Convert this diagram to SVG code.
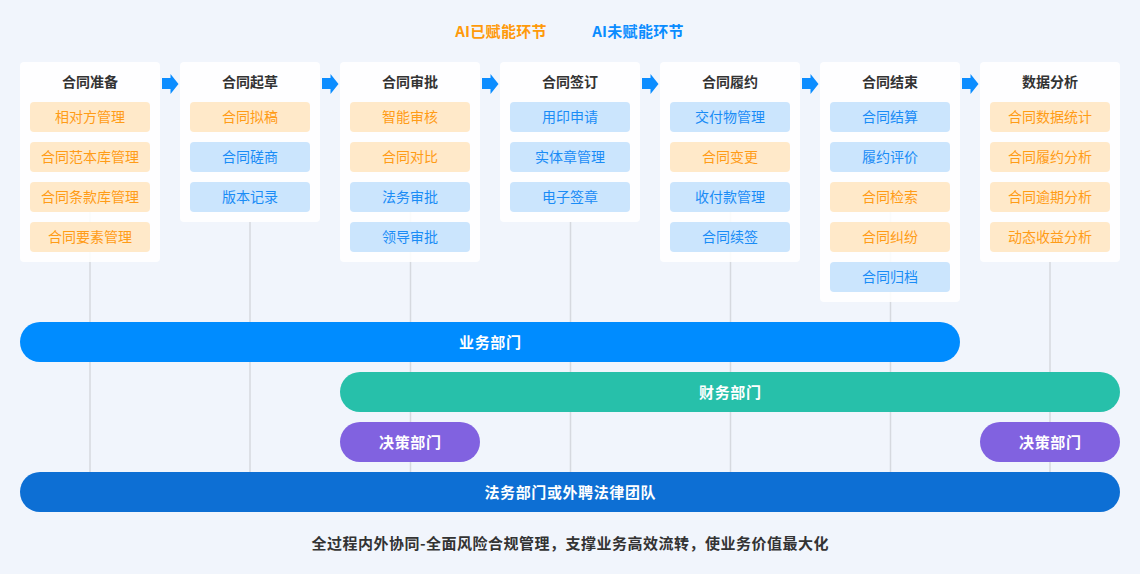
<svg xmlns="http://www.w3.org/2000/svg" width="1140" height="574" viewBox="0 0 1140 574">
<defs>
<style>
text{font-family:"Noto Sans CJK SC","Noto Sans",sans-serif;}
.bg{fill:#f1f5fc;}
.card{fill:#ffffff;fill-opacity:0.88;}
.ttl{font-size:14px;font-weight:bold;fill:#333333;text-anchor:middle;}
.io{fill:#ffe9c9;}
.ib{fill:#cbe5fd;}
.to{font-size:14px;fill:#ff9c17;text-anchor:middle;}
.tb{font-size:14px;fill:#1a8cf6;text-anchor:middle;}
.vl{stroke:#d6d9df;stroke-width:1.5;fill:none;}
.arr{fill:#0a8cff;}
.bt{font-size:15px;font-weight:bold;fill:#ffffff;text-anchor:middle;letter-spacing:0.6px;}
</style>
<path id="ar" d="M0,4 H8.5 V0 L16.5,10 L8.5,20 V15 H0 Z"/>
</defs>
<rect class="bg" x="0" y="0" width="1140" height="574"/>

<g id="legend">
<text x="501" y="37" style="font-size:15px;font-weight:bold;fill:#ff9a0a;text-anchor:middle;letter-spacing:0.3px">AI已赋能环节</text>
<text x="638" y="37" style="font-size:15px;font-weight:bold;fill:#0a8cff;text-anchor:middle;letter-spacing:0.3px">AI未赋能环节</text>
</g>

<g id="connectors">
<line class="vl" x1="90" y1="205" x2="90" y2="472"/>
<line class="vl" x1="250" y1="222" x2="250" y2="472"/>
<line class="vl" x1="410.5" y1="205" x2="410.5" y2="472"/>
<line class="vl" x1="570.5" y1="222" x2="570.5" y2="472"/>
<line class="vl" x1="730.5" y1="205" x2="730.5" y2="472"/>
<line class="vl" x1="890.5" y1="205" x2="890.5" y2="472"/>
<line class="vl" x1="1050" y1="262" x2="1050" y2="472"/>
<use href="#ar" class="arr" x="162" y="74"/>
<use href="#ar" class="arr" x="322" y="74"/>
<use href="#ar" class="arr" x="482" y="74"/>
<use href="#ar" class="arr" x="642" y="74"/>
<use href="#ar" class="arr" x="802" y="74"/>
<use href="#ar" class="arr" x="962" y="74"/>
</g>

<g id="col1">
<rect class="card" x="20" y="62" width="140" height="200" rx="4"/>
<text class="ttl" x="90" y="87">合同准备</text>
<rect class="io" x="30" y="102" width="120" height="30" rx="4"/><text class="to" x="90" y="122">相对方管理</text>
<rect class="io" x="30" y="142" width="120" height="30" rx="4"/><text class="to" x="90" y="162">合同范本库管理</text>
<rect class="io" x="30" y="182" width="120" height="30" rx="4"/><text class="to" x="90" y="202">合同条款库管理</text>
<rect class="io" x="30" y="222" width="120" height="30" rx="4"/><text class="to" x="90" y="242">合同要素管理</text>
</g>

<g id="col2">
<rect class="card" x="180" y="62" width="140" height="160" rx="4"/>
<text class="ttl" x="250" y="87">合同起草</text>
<rect class="io" x="190" y="102" width="120" height="30" rx="4"/><text class="to" x="250" y="122">合同拟稿</text>
<rect class="ib" x="190" y="142" width="120" height="30" rx="4"/><text class="tb" x="250" y="162">合同磋商</text>
<rect class="ib" x="190" y="182" width="120" height="30" rx="4"/><text class="tb" x="250" y="202">版本记录</text>
</g>

<g id="col3">
<rect class="card" x="340" y="62" width="140" height="200" rx="4"/>
<text class="ttl" x="410" y="87">合同审批</text>
<rect class="io" x="350" y="102" width="120" height="30" rx="4"/><text class="to" x="410" y="122">智能审核</text>
<rect class="io" x="350" y="142" width="120" height="30" rx="4"/><text class="to" x="410" y="162">合同对比</text>
<rect class="ib" x="350" y="182" width="120" height="30" rx="4"/><text class="tb" x="410" y="202">法务审批</text>
<rect class="ib" x="350" y="222" width="120" height="30" rx="4"/><text class="tb" x="410" y="242">领导审批</text>
</g>

<g id="col4">
<rect class="card" x="500" y="62" width="140" height="160" rx="4"/>
<text class="ttl" x="570" y="87">合同签订</text>
<rect class="ib" x="510" y="102" width="120" height="30" rx="4"/><text class="tb" x="570" y="122">用印申请</text>
<rect class="ib" x="510" y="142" width="120" height="30" rx="4"/><text class="tb" x="570" y="162">实体章管理</text>
<rect class="ib" x="510" y="182" width="120" height="30" rx="4"/><text class="tb" x="570" y="202">电子签章</text>
</g>

<g id="col5">
<rect class="card" x="660" y="62" width="140" height="200" rx="4"/>
<text class="ttl" x="730" y="87">合同履约</text>
<rect class="ib" x="670" y="102" width="120" height="30" rx="4"/><text class="tb" x="730" y="122">交付物管理</text>
<rect class="io" x="670" y="142" width="120" height="30" rx="4"/><text class="to" x="730" y="162">合同变更</text>
<rect class="ib" x="670" y="182" width="120" height="30" rx="4"/><text class="tb" x="730" y="202">收付款管理</text>
<rect class="ib" x="670" y="222" width="120" height="30" rx="4"/><text class="tb" x="730" y="242">合同续签</text>
</g>

<g id="col6">
<rect class="card" x="820" y="62" width="140" height="240" rx="4"/>
<text class="ttl" x="890" y="87">合同结束</text>
<rect class="ib" x="830" y="102" width="120" height="30" rx="4"/><text class="tb" x="890" y="122">合同结算</text>
<rect class="ib" x="830" y="142" width="120" height="30" rx="4"/><text class="tb" x="890" y="162">履约评价</text>
<rect class="io" x="830" y="182" width="120" height="30" rx="4"/><text class="to" x="890" y="202">合同检索</text>
<rect class="io" x="830" y="222" width="120" height="30" rx="4"/><text class="to" x="890" y="242">合同纠纷</text>
<rect class="ib" x="830" y="262" width="120" height="30" rx="4"/><text class="tb" x="890" y="282">合同归档</text>
</g>

<g id="col7">
<rect class="card" x="980" y="62" width="140" height="200" rx="4"/>
<text class="ttl" x="1050" y="87">数据分析</text>
<rect class="io" x="990" y="102" width="120" height="30" rx="4"/><text class="to" x="1050" y="122">合同数据统计</text>
<rect class="io" x="990" y="142" width="120" height="30" rx="4"/><text class="to" x="1050" y="162">合同履约分析</text>
<rect class="io" x="990" y="182" width="120" height="30" rx="4"/><text class="to" x="1050" y="202">合同逾期分析</text>
<rect class="io" x="990" y="222" width="120" height="30" rx="4"/><text class="to" x="1050" y="242">动态收益分析</text>
</g>

<g id="bar-business">
<rect x="20" y="322" width="940" height="40" rx="20" fill="#008cff"/>
<text class="bt" x="490.3" y="347.5">业务部门</text>
</g>
<g id="bar-finance">
<rect x="340" y="372" width="780" height="40" rx="20" fill="#27c0aa"/>
<text class="bt" x="730.3" y="397.5">财务部门</text>
</g>
<g id="bar-decision-1">
<rect x="340" y="422" width="140" height="40" rx="20" fill="#8162e0"/>
<text class="bt" x="410.3" y="447.5">决策部门</text>
</g>
<g id="bar-decision-2">
<rect x="980" y="422" width="140" height="40" rx="20" fill="#8162e0"/>
<text class="bt" x="1050.3" y="447.5">决策部门</text>
</g>
<g id="bar-legal">
<rect x="20" y="472" width="1100" height="40" rx="20" fill="#0d6fd4"/>
<text class="bt" x="570.3" y="497.5">法务部门或外聘法律团队</text>
</g>

<g id="footer">
<text x="570.3" y="549" style="font-size:15px;font-weight:bold;fill:#333333;text-anchor:middle;letter-spacing:0.5px">全过程内外协同-全面风险合规管理，支撑业务高效流转，使业务价值最大化</text>
</g>
</svg>
